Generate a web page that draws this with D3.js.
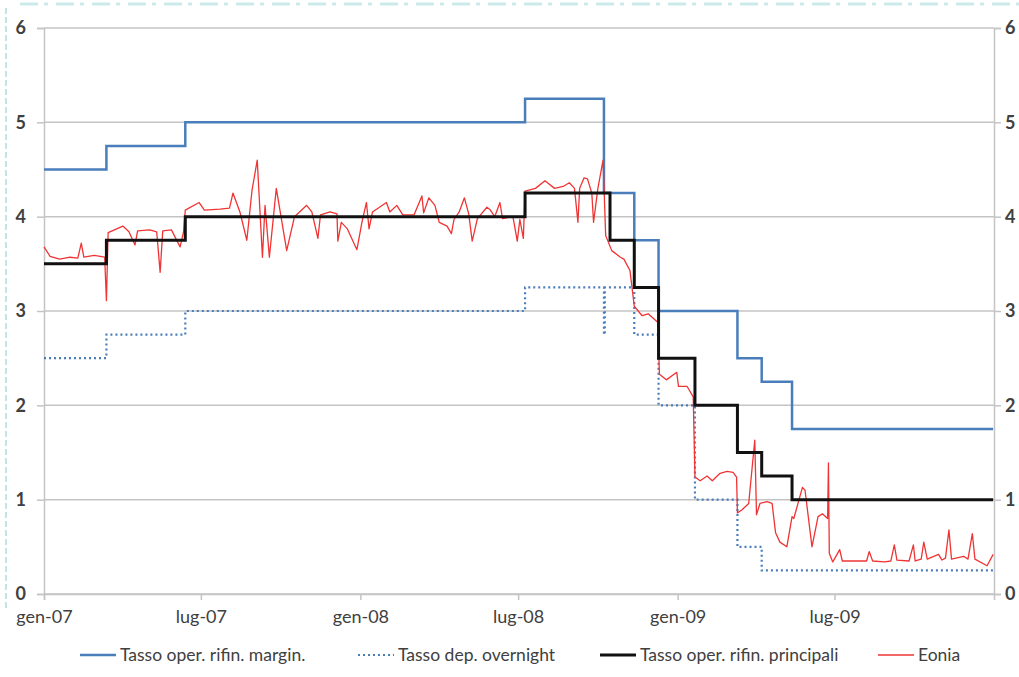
<!DOCTYPE html>
<html>
<head>
<meta charset="utf-8">
<script src="https://cdn.jsdelivr.net/npm/d3@7"></script>
<style>
  body { margin: 0; background: #fff; }
  text { font-family: Lato, "Open Sans", sans-serif; fill: #404040; }
</style>
</head>
<body>
<div id="container"></div>
<script>
/* CONSTANTS AND GLOBALS */
const width = 1019,
  height = 677,
  margin = { top: 28, bottom: 83, left: 44, right: 25 },
  colors = { margin: '#4a7ebb', deposit: '#4a7ebb', main: '#111111', eonia: '#f03434', grid: '#c4c4c4' }

/* DATA */
const yTicks = [0, 1, 2, 3, 4, 5, 6]
const xTickDates = ["2007-01-01", "2007-07-01", "2008-01-01", "2008-07-01", "2009-01-01", "2009-07-01"]
const xTickLabels = ["gen-07", "lug-07", "gen-08", "lug-08", "gen-09", "lug-09"]

// Tasso oper. rifin. margin.
const marginDates = ["2007-01-01", "2007-03-14", "2007-06-13", "2008-07-09", "2008-10-08", "2008-11-12", "2008-12-10", "2009-03-11", "2009-04-08", "2009-05-13"]
const marginValues = [4.5, 4.75, 5.0, 5.25, 4.25, 3.75, 3.0, 2.5, 2.25, 1.75]

// Tasso dep. overnight
const depositDates = ["2007-01-01", "2007-03-14", "2007-06-13", "2008-07-09", "2008-10-08", "2008-10-09", "2008-11-12", "2008-12-10", "2009-01-21", "2009-03-11", "2009-04-08"]
const depositValues = [2.5, 2.75, 3.0, 3.25, 2.75, 3.25, 2.75, 2.0, 1.0, 0.5, 0.25]

// Tasso oper. rifin. principali
const mainDates = ["2007-01-01", "2007-03-14", "2007-06-13", "2008-07-09", "2008-10-15", "2008-11-12", "2008-12-10", "2009-01-21", "2009-03-11", "2009-04-08", "2009-05-13"]
const mainValues = [3.5, 3.75, 4.0, 4.25, 3.75, 3.25, 2.5, 2.0, 1.5, 1.25, 1.0]

// Eonia
const eoniaDates = [
  "2007-01-01", "2007-01-08", "2007-01-19", "2007-01-31", "2007-02-09", "2007-02-13", "2007-02-16", "2007-02-28",
  "2007-03-12", "2007-03-14", "2007-03-16", "2007-04-02", "2007-04-09", "2007-04-16", "2007-04-19", "2007-05-03",
  "2007-05-11", "2007-05-15", "2007-05-18", "2007-05-28", "2007-06-07", "2007-06-11", "2007-06-13", "2007-06-29",
  "2007-07-05", "2007-07-23", "2007-08-03", "2007-08-07", "2007-08-15", "2007-08-23", "2007-08-29", "2007-09-04",
  "2007-09-10", "2007-09-13", "2007-09-18", "2007-09-26", "2007-10-08", "2007-10-17", "2007-10-31", "2007-11-06",
  "2007-11-13", "2007-11-16", "2007-11-27", "2007-12-05", "2007-12-06", "2007-12-10", "2007-12-17", "2007-12-28",
  "2008-01-03", "2008-01-08", "2008-01-11", "2008-01-15", "2008-01-31", "2008-02-04", "2008-02-12", "2008-02-19",
  "2008-03-03", "2008-03-12", "2008-03-14", "2008-03-20", "2008-03-27", "2008-04-01", "2008-04-10", "2008-04-15",
  "2008-04-18", "2008-04-24", "2008-04-30", "2008-05-05", "2008-05-09", "2008-05-15", "2008-05-26", "2008-05-30",
  "2008-06-04", "2008-06-10", "2008-06-13", "2008-06-25", "2008-06-30", "2008-07-03", "2008-07-07", "2008-07-09",
  "2008-07-21", "2008-08-01", "2008-08-12", "2008-08-22", "2008-08-29", "2008-09-04", "2008-09-08", "2008-09-10",
  "2008-09-15", "2008-09-19", "2008-09-24", "2008-09-26", "2008-10-01", "2008-10-07", "2008-10-10", "2008-10-17",
  "2008-10-27", "2008-10-31", "2008-11-07", "2008-11-12", "2008-11-21", "2008-11-28", "2008-12-09", "2008-12-11",
  "2008-12-19", "2008-12-31", "2009-01-02", "2009-01-12", "2009-01-19", "2009-01-21", "2009-01-27", "2009-02-04",
  "2009-02-10", "2009-02-19", "2009-02-27", "2009-03-06", "2009-03-10", "2009-03-11", "2009-03-16", "2009-03-24",
  "2009-03-31", "2009-04-02", "2009-04-06", "2009-04-14", "2009-04-20", "2009-04-24", "2009-04-29", "2009-05-07",
  "2009-05-13", "2009-05-15", "2009-05-25", "2009-05-28", "2009-06-05", "2009-06-12", "2009-06-17", "2009-06-23",
  "2009-06-24", "2009-06-25", "2009-06-29", "2009-07-07", "2009-07-10", "2009-07-24", "2009-08-07", "2009-08-10",
  "2009-08-14", "2009-08-28", "2009-09-04", "2009-09-08", "2009-09-11", "2009-09-25", "2009-09-30", "2009-10-02",
  "2009-10-09", "2009-10-12", "2009-10-16", "2009-10-29", "2009-11-02", "2009-11-06", "2009-11-10", "2009-11-13",
  "2009-11-27", "2009-12-02", "2009-12-07", "2009-12-10", "2009-12-24", "2009-12-31"
]
const eoniaValues = [
  3.68, 3.58, 3.55, 3.57, 3.56, 3.72, 3.57, 3.59,
  3.57, 3.11, 3.83, 3.90, 3.84, 3.70, 3.85, 3.86,
  3.84, 3.41, 3.85, 3.86, 3.68, 3.84, 4.07, 4.15,
  4.07, 4.08, 4.09, 4.25, 4.05, 3.75, 4.28, 4.60,
  3.57, 4.12, 3.57, 4.30, 3.64, 4.00, 4.12, 4.05,
  3.77, 4.02, 4.05, 4.03, 3.74, 3.94, 3.87, 3.65,
  3.95, 4.15, 3.87, 4.05, 4.15, 4.05, 4.12, 4.02,
  4.02, 4.22, 4.04, 4.20, 4.12, 3.94, 3.90, 3.82,
  3.97, 4.05, 4.20, 4.03, 3.74, 3.98, 4.10, 4.07,
  4.00, 4.15, 3.98, 4.00, 3.74, 3.97, 3.77, 4.27,
  4.30, 4.38, 4.30, 4.32, 4.36, 4.30, 3.94, 4.30,
  4.41, 4.40, 4.25, 3.94, 4.30, 4.60, 3.80, 3.64,
  3.57, 3.55, 3.43, 3.05, 2.95, 2.97, 2.88, 2.33,
  2.27, 2.35, 2.20, 2.20, 2.09, 1.24, 1.20, 1.25,
  1.20, 1.28, 1.30, 1.29, 1.24, 0.86, 0.89, 0.96,
  1.63, 0.84, 0.96, 0.98, 0.96, 0.65, 0.55, 0.50,
  0.82, 0.80, 1.13, 1.10, 0.50, 0.82, 0.85, 0.80,
  1.39, 0.43, 0.34, 0.47, 0.35, 0.35, 0.35, 0.45,
  0.35, 0.34, 0.35, 0.52, 0.36, 0.35, 0.52, 0.35,
  0.37, 0.55, 0.37, 0.42, 0.36, 0.38, 0.68, 0.37,
  0.40, 0.37, 0.64, 0.37, 0.30, 0.42
]

const endDate = "2009-12-31"
const legendLabels = ["Tasso  oper. rifin. margin.", "Tasso dep. overnight", "Tasso oper. rifin. principali", "Eonia"]

/* HELPERS */
const parse = d3.timeParse("%Y-%m-%d")
const toPoints = (dates, values) => dates.map((d, i) => ({ date: parse(d), value: values[i] }))
// step series are held until the last day shown
const stepSeries = (dates, values) => toPoints(dates, values).concat([{ date: parse(endDate), value: values[values.length - 1] }])

const marginData = stepSeries(marginDates, marginValues)
const depositData = stepSeries(depositDates, depositValues)
const mainData = stepSeries(mainDates, mainValues)
const eoniaData = toPoints(eoniaDates, eoniaValues)

/* SCALES */
const xScale = d3.scaleTime()
  .domain([parse("2007-01-01"), parse("2010-01-01")])
  .range([margin.left, width - margin.right])

const yScale = d3.scaleLinear()
  .domain([0, 6])
  .range([height - margin.bottom, margin.top])

/* SVG */
const svg = d3.select("#container")
  .append("svg")
  .attr("width", width)
  .attr("height", height)

// scanned page edges
svg.append("line")
  .attr("x1", 20).attr("x2", width).attr("y1", 4).attr("y2", 4)
  .attr("stroke", "#b8e2e2").attr("stroke-width", 3).attr("stroke-dasharray", "18,6,4,8")
  .attr("opacity", 0.7)
svg.append("line")
  .attr("x1", 6).attr("x2", 6).attr("y1", 8).attr("y2", 610)
  .attr("stroke", "#c2e4e4").attr("stroke-width", 2).attr("stroke-dasharray", "6,3")

// gridlines
svg.append("g")
  .selectAll("line")
  .data(yTicks)
  .join("line")
  .attr("x1", margin.left)
  .attr("x2", width - margin.right)
  .attr("y1", d => yScale(d))
  .attr("y2", d => yScale(d))
  .attr("stroke", colors.grid)
  .attr("stroke-width", 1.5)

// left axis
const yAxisLeft = d3.axisLeft(yScale).tickValues(yTicks).tickSize(7).tickPadding(11).tickFormat(d3.format("d"))
svg.append("g")
  .attr("class", "axis yaxis")
  .attr("transform", `translate(${margin.left},0)`)
  .call(yAxisLeft)

// right axis
const yAxisRight = d3.axisRight(yScale).tickValues(yTicks).tickSize(7).tickPadding(4).tickFormat(d3.format("d"))
svg.append("g")
  .attr("class", "axis yaxis")
  .attr("transform", `translate(${width - margin.right},0)`)
  .call(yAxisRight)

// bottom axis
const xAxis = d3.axisBottom(xScale)
  .tickValues(xTickDates.map(parse))
  .tickSize(6)
  .tickPadding(10)
  .tickFormat((d, i) => xTickLabels[i])
svg.append("g")
  .attr("class", "axis")
  .attr("transform", `translate(0,${height - margin.bottom})`)
  .call(xAxis)

svg.selectAll(".axis path, .axis line").attr("stroke", colors.grid).attr("stroke-width", 1.5)
svg.selectAll(".axis text").attr("font-size", 18).attr("fill", "#404040")
svg.selectAll(".axis text").style("font-family", "Lato, sans-serif")
svg.selectAll(".yaxis text").attr("font-weight", "bold").attr("fill", "#484848")

/* LINES */
const stepLine = d3.line()
  .x(d => xScale(d.date))
  .y(d => yScale(d.value))
  .curve(d3.curveStepAfter)

const plainLine = d3.line()
  .x(d => xScale(d.date))
  .y(d => yScale(d.value))

svg.append("path")
  .datum(depositData)
  .attr("d", stepLine)
  .attr("fill", "none")
  .attr("stroke", colors.deposit)
  .attr("stroke-width", 2.2)
  .attr("stroke-dasharray", "2,3")

svg.append("path")
  .datum(marginData)
  .attr("d", stepLine)
  .attr("fill", "none")
  .attr("stroke", colors.margin)
  .attr("stroke-width", 2.5)

svg.append("path")
  .datum(eoniaData)
  .attr("d", plainLine)
  .attr("fill", "none")
  .attr("stroke", colors.eonia)
  .attr("stroke-width", 1.3)
  .attr("stroke-linejoin", "round")

svg.append("path")
  .datum(mainData)
  .attr("d", stepLine)
  .attr("fill", "none")
  .attr("stroke", colors.main)
  .attr("stroke-width", 3)

/* LEGEND */
const legendItems = [
  { label: legendLabels[0], x: 80, color: colors.margin, width: 2.5, dash: null },
  { label: legendLabels[1], x: 358, color: colors.deposit, width: 2, dash: "2,3" },
  { label: legendLabels[2], x: 600, color: colors.main, width: 3, dash: null },
  { label: legendLabels[3], x: 878, color: colors.eonia, width: 1.5, dash: null }
]
const legend = svg.append("g").attr("transform", "translate(0,655)")
const item = legend.selectAll("g")
  .data(legendItems)
  .join("g")
  .attr("transform", d => `translate(${d.x},0)`)
item.append("line")
  .attr("x1", 0).attr("x2", 36)
  .attr("stroke", d => d.color)
  .attr("stroke-width", d => d.width)
  .attr("stroke-dasharray", d => d.dash)
item.append("text")
  .attr("x", 40)
  .attr("dy", "0.35em")
  .attr("font-size", 17.5)
  .text(d => d.label)
</script>
</body>
</html>
